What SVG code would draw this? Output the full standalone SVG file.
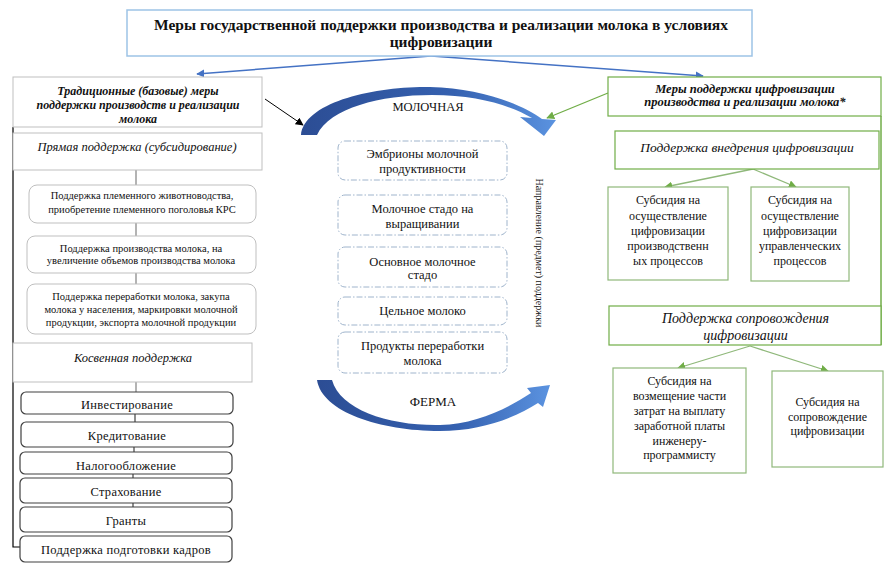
<svg xmlns="http://www.w3.org/2000/svg" width="896" height="574" viewBox="0 0 896 574" font-family="'Liberation Serif', Tinos, 'Times New Roman', 'DejaVu Serif', 'Noto Serif', serif">
<style>
text{font-family:'Liberation Serif',Tinos,'Times New Roman','DejaVu Serif','Noto Serif',serif;fill:#111;text-anchor:middle}
.t{font-size:15.5px;font-weight:bold}
.hb{font-size:12px;font-weight:bold;font-style:italic}
.it{font-size:12.5px;font-style:italic}
.it2{font-size:13.5px;font-style:italic}
.s{font-size:10.5px}
.m{font-size:12.5px}
.b{font-size:12.5px;letter-spacing:0.3px}
.r{font-size:12px}
.gbox{fill:#fff;stroke:#bfbfbf;stroke-width:1}
.rbox{fill:#fff;stroke:#bfbfbf;stroke-width:1}
.dbox{fill:#fff;stroke:#404040;stroke-width:1.2}
.cbox{fill:#fff;stroke:#9fb4cc;stroke-width:1;stroke-dasharray:6 2 1.5 2}
.grn{fill:#fff;stroke:#70ad47;stroke-width:1.2}
.grn2{fill:#fff;stroke:#8fb87a;stroke-width:1.2}
.tbox{fill:#fff;stroke:#9dc3e6;stroke-width:1.5}
.cg{stroke:#808080;stroke-width:1.2;fill:none}
.cd{stroke:#404040;stroke-width:1.2;fill:none}
</style>
<defs>
<marker id="ab" viewBox="0 0 10 10" refX="9" refY="5" markerWidth="8" markerHeight="8" markerUnits="userSpaceOnUse" orient="auto"><path d="M0,0 L10,5 L0,10 Z" fill="#4472c4"/></marker>
<marker id="ag" viewBox="0 0 10 10" refX="9" refY="5" markerWidth="8" markerHeight="8" markerUnits="userSpaceOnUse" orient="auto"><path d="M0,0 L10,5 L0,10 Z" fill="#70ad47"/></marker>
<marker id="ak" viewBox="0 0 10 10" refX="9" refY="5" markerWidth="8" markerHeight="8" markerUnits="userSpaceOnUse" orient="auto"><path d="M0,0 L10,5 L0,10 Z" fill="#000"/></marker>
<linearGradient id="gr" x1="0" y1="0" x2="1" y2="0">
<stop offset="0" stop-color="#2c4d94"/>
<stop offset="0.6" stop-color="#3561b0"/>
<stop offset="1" stop-color="#5b93e0"/>
</linearGradient>
</defs>

<g id="connectors">
<line x1="431" y1="56" x2="197" y2="74" stroke="#4472c4" stroke-width="1.5" marker-end="url(#ab)"/>
<line x1="431" y1="56" x2="703" y2="76" stroke="#4472c4" stroke-width="1.5" marker-end="url(#ab)"/>
<line x1="265" y1="99" x2="303" y2="125" stroke="#000" stroke-width="1" marker-end="url(#ak)"/>
<line x1="608" y1="93" x2="547" y2="118" stroke="#70ad47" stroke-width="1.3" marker-end="url(#ag)"/>
<polyline points="13,127 13,547 21,547" stroke="#000" stroke-width="1.2" fill="none"/>
<line x1="136" y1="170" x2="136" y2="185" class="cg"/>
<line x1="136" y1="223" x2="136" y2="236" class="cg"/>
<line x1="136" y1="273" x2="136" y2="284" class="cg"/>
<line x1="136" y1="382" x2="136" y2="392" class="cg"/>
<line x1="135" y1="414" x2="135" y2="422" class="cd"/>
<line x1="134" y1="447" x2="134" y2="452" class="cd"/>
<line x1="133" y1="474" x2="133" y2="478" class="cd"/>
<line x1="133" y1="503" x2="133" y2="507" class="cd"/>
<line x1="881" y1="116" x2="881" y2="345" stroke="#70ad47" stroke-width="1.5"/>
<line x1="753" y1="169" x2="665" y2="187" stroke="#8fb87a" stroke-width="1.3" marker-end="url(#ag)"/>
<line x1="753" y1="169" x2="796" y2="187" stroke="#8fb87a" stroke-width="1.3" marker-end="url(#ag)"/>
<line x1="750" y1="346" x2="678" y2="368" stroke="#8fb87a" stroke-width="1.3" marker-end="url(#ag)"/>
<line x1="750" y1="346" x2="828" y2="371" stroke="#8fb87a" stroke-width="1.3" marker-end="url(#ag)"/>
</g>

<g id="title">
<rect x="127" y="10" width="625" height="46" class="tbox"/>
<text x="441" y="30" class="t">Меры государственной поддержки производства и реализации молока в условиях</text>
<text x="441" y="47" class="t">цифровизации</text>
</g>

<g id="left-header">
<rect x="13" y="77" width="249" height="50" class="gbox"/>
<text x="138" y="95" class="hb">Традиционные (базовые) меры</text>
<text x="138" y="109" class="hb">поддержки производств и реализации</text>
<text x="138" y="123" class="hb">молока</text>
</g>

<g id="direct">
<rect x="13" y="133" width="249" height="37" class="gbox"/>
<text x="137" y="151" class="it">Прямая поддержка (субсидирование)</text>
</g>
<g id="d1">
<rect x="29" y="185" width="227" height="38" rx="8" class="rbox"/>
<text x="142" y="199" class="s">Поддержка племенного животноводства,</text>
<text x="142" y="213" class="s">приобретение племенного поголовья КРС</text>
</g>
<g id="d2">
<rect x="27" y="236" width="229" height="37" rx="8" class="rbox"/>
<text x="141" y="251.5" class="s">Поддержка производства молока, на</text>
<text x="141" y="264" class="s">увеличение объемов производства молока</text>
</g>
<g id="d3">
<rect x="27" y="284" width="229" height="50" rx="8" class="rbox"/>
<text x="141" y="299.5" class="s">Поддержка переработки молока, закупа</text>
<text x="141" y="313" class="s">молока у населения, маркировки молочной</text>
<text x="141" y="325.5" class="s">продукции, экспорта молочной продукции</text>
</g>
<g id="indirect">
<rect x="13" y="343" width="239" height="39" class="gbox"/>
<text x="133" y="362" class="it">Косвенная поддержка</text>
</g>
<g id="i1"><rect x="21" y="392" width="212" height="22" rx="5" class="dbox"/><text x="127" y="408.5" class="b">Инвестирование</text></g>
<g id="i2"><rect x="21" y="422" width="212" height="25" rx="5" class="dbox"/><text x="127" y="439.5" class="b">Кредитование</text></g>
<g id="i3"><rect x="20" y="452" width="212" height="22" rx="5" class="dbox"/><text x="126" y="469.5" class="b">Налогообложение</text></g>
<g id="i4"><rect x="20" y="478" width="212" height="25" rx="5" class="dbox"/><text x="126" y="496" class="b">Страхование</text></g>
<g id="i5"><rect x="20" y="507" width="212" height="25" rx="5" class="dbox"/><text x="126" y="524.5" class="b">Гранты</text></g>
<g id="i6"><rect x="20" y="536" width="212" height="26" rx="5" class="dbox"/><text x="126" y="553.5" class="b">Поддержка подготовки кадров</text></g>

<g id="cycle">
<path d="M301,135 C304,103 372,86 430,87 C480,88 522,104 542,119 L556,120 L544,136 L520,117 L532,118 C512,106 478,95 432,95 C380,95 330,108 317,135 Z" fill="url(#gr)"/>
<path d="M317,380 C322,412 380,431 440,431 C480,431 515,418 538,403 L543,407 L550,385 L527,388 L531,393 C505,410 475,424 440,425 C390,426 340,410 332,380 Z" fill="url(#gr)"/>
<text x="428" y="111" class="m">МОЛОЧНАЯ</text>
<text x="433" y="405.5" class="m" style="font-size:13px">ФЕРМА</text>
<text x="536" y="253" class="s" style="font-size:10px" transform="rotate(90 536 253)">Направление (предмет) поддержки</text>
</g>

<g id="c1"><rect x="338" y="141" width="169" height="39" rx="7" class="cbox"/><text x="422.5" y="158" class="m">Эмбрионы молочной</text><text x="422.5" y="172.5" class="m">продуктивности</text></g>
<g id="c2"><rect x="338" y="195" width="169" height="40" rx="7" class="cbox"/><text x="422.5" y="212.5" class="m">Молочное стадо на</text><text x="422.5" y="227.5" class="m">выращивании</text></g>
<g id="c3"><rect x="338" y="247" width="169" height="40" rx="7" class="cbox"/><text x="422.5" y="266" class="m">Основное молочное</text><text x="422.5" y="279" class="m">стадо</text></g>
<g id="c4"><rect x="338" y="297" width="169" height="28" rx="7" class="cbox"/><text x="422.5" y="314.5" class="m">Цельное молоко</text></g>
<g id="c5"><rect x="338" y="332" width="169" height="41" rx="7" class="cbox"/><text x="422.5" y="350" class="m">Продукты переработки</text><text x="422.5" y="365" class="m">молока</text></g>

<g id="right-header">
<rect x="608" y="77" width="273" height="39" class="grn"/>
<text x="745" y="92.5" class="hb" style="font-size:12.5px">Меры поддержки цифровизации</text>
<text x="745" y="106" class="hb" style="font-size:12.5px">производства и реализации молока*</text>
</g>
<g id="impl">
<rect x="615" y="131" width="264" height="38" class="grn"/>
<text x="747" y="152" class="it2">Поддержка внедрения цифровизации</text>
</g>
<g id="s1">
<rect x="608" y="187" width="120" height="93" class="grn2"/>
<text x="668" y="204" class="r">Субсидия на</text>
<text x="668" y="220" class="r">осуществление</text>
<text x="668" y="235" class="r">цифровизации</text>
<text x="668" y="250" class="r">производственн</text>
<text x="668" y="265" class="r">ых процессов</text>
</g>
<g id="s2">
<rect x="751" y="187" width="98" height="94" class="grn2"/>
<text x="800" y="204" class="r">Субсидия на</text>
<text x="800" y="220" class="r">осуществление</text>
<text x="800" y="235" class="r">цифровизации</text>
<text x="800" y="250" class="r">управленческих</text>
<text x="800" y="265" class="r">процессов</text>
</g>
<g id="accomp">
<rect x="609" y="306" width="272" height="39" class="grn"/>
<text x="745.5" y="323" class="it2" style="font-size:14px">Поддержка сопровождения</text>
<text x="745.5" y="340" class="it2" style="font-size:14px">цифровизации</text>
</g>
<g id="s3">
<rect x="613" y="368" width="133" height="105" class="grn2"/>
<text x="679.5" y="384.5" class="r">Субсидия на</text>
<text x="679.5" y="399.5" class="r">возмещение части</text>
<text x="679.5" y="414.5" class="r">затрат на выплату</text>
<text x="679.5" y="429.5" class="r">заработной платы</text>
<text x="679.5" y="444.5" class="r">инженеру-</text>
<text x="679.5" y="458.5" class="r">программисту</text>
</g>
<g id="s4">
<rect x="772" y="371" width="111" height="96" class="grn2"/>
<text x="827.5" y="406" class="r">Субсидия на</text>
<text x="827.5" y="421" class="r">сопровождение</text>
<text x="827.5" y="435" class="r">цифровизации</text>
</g>
</svg>
